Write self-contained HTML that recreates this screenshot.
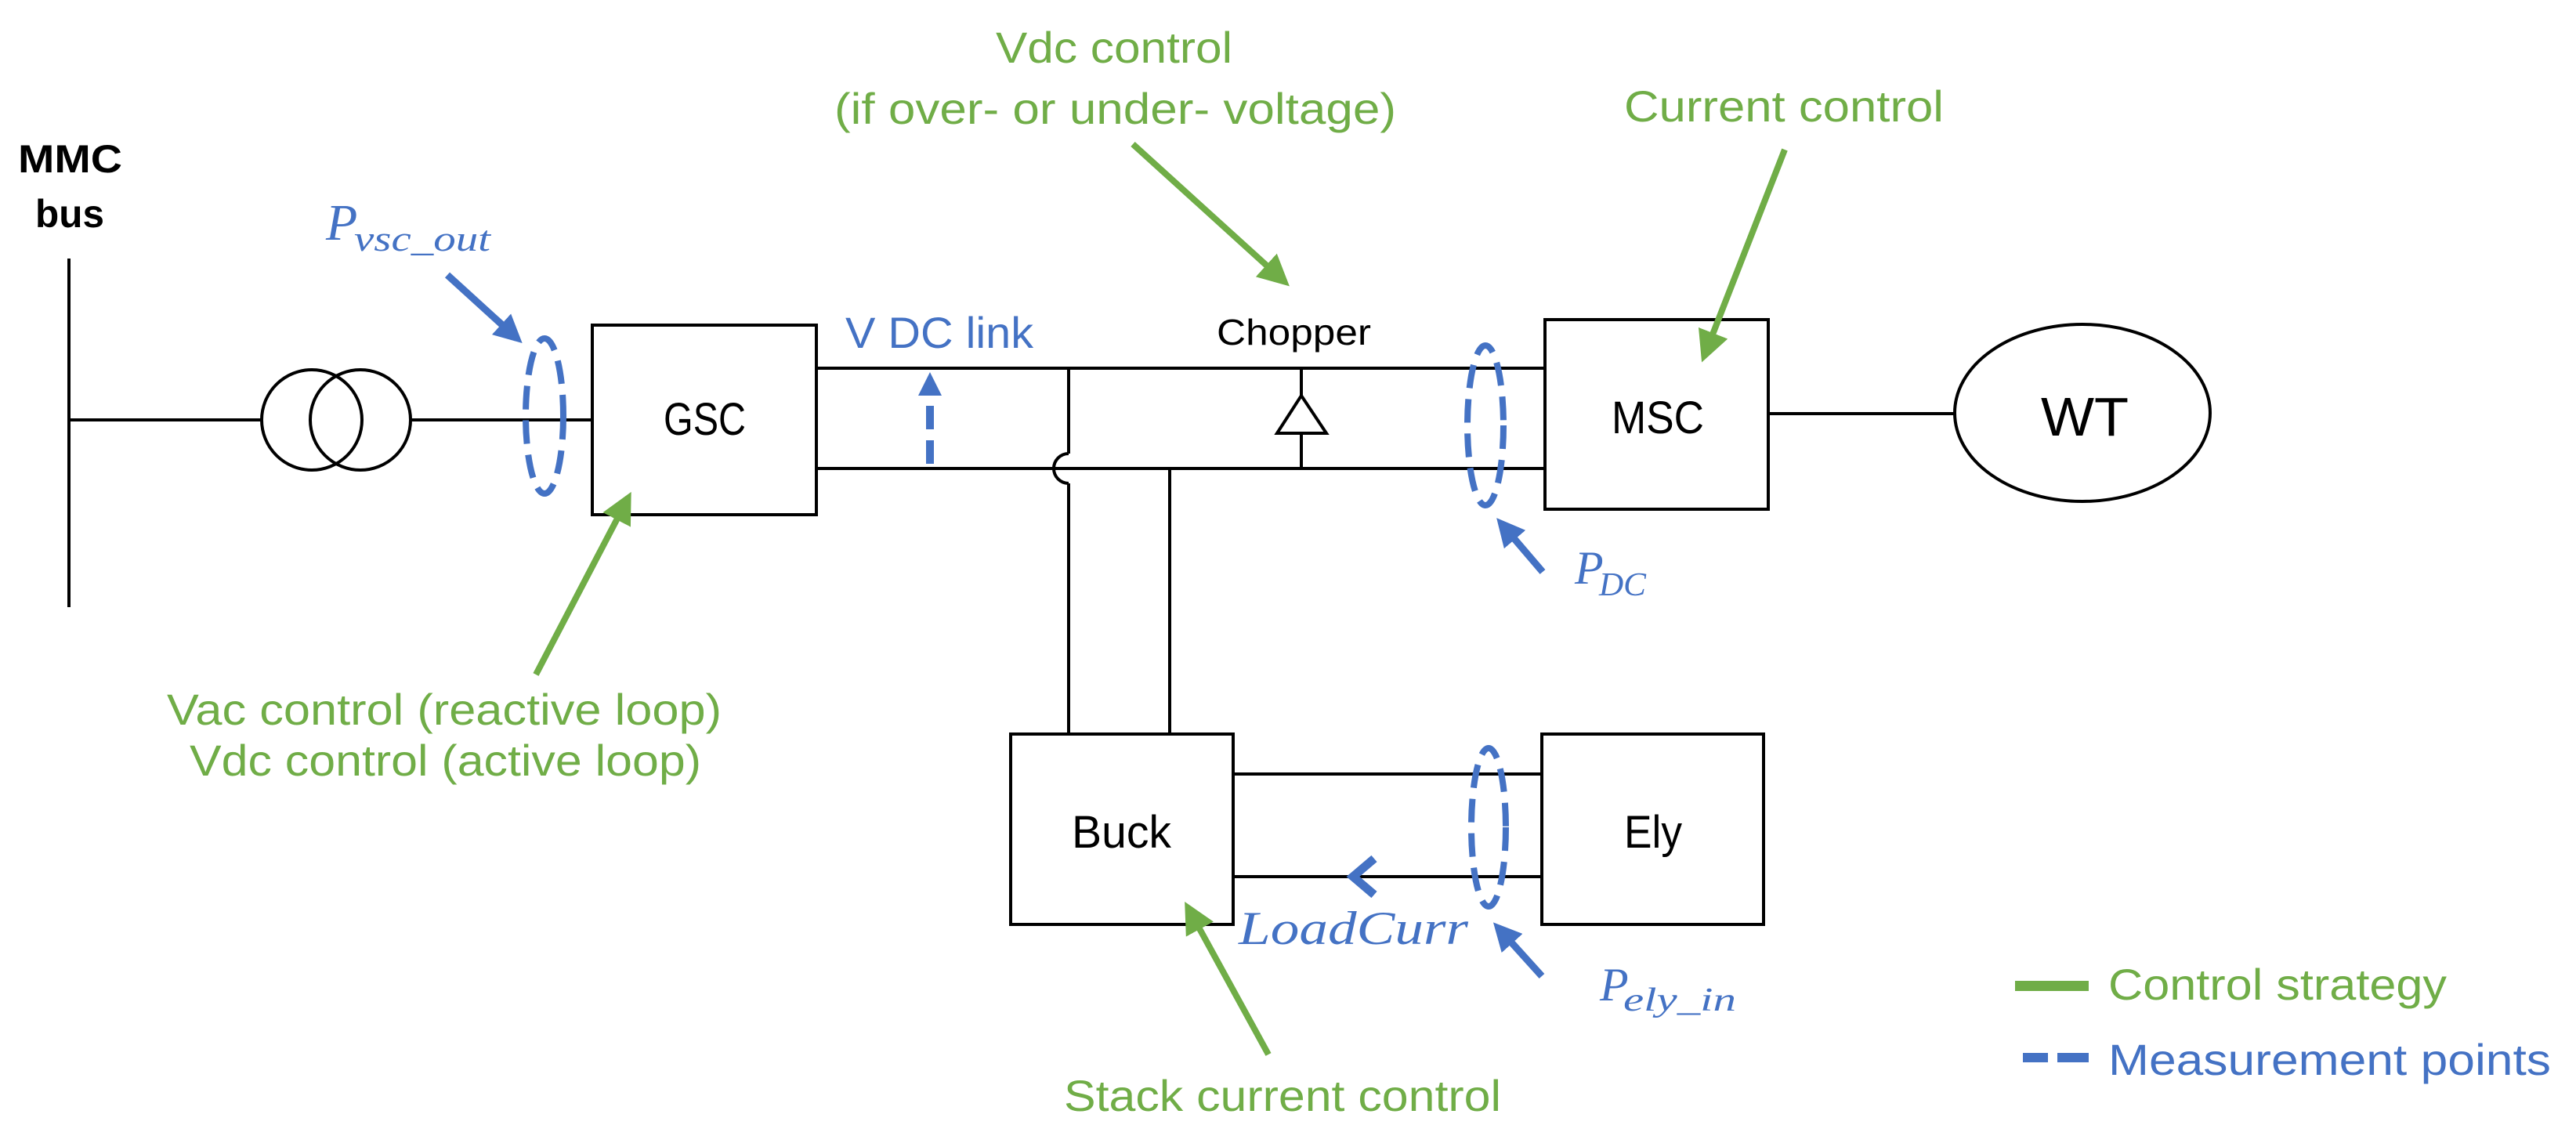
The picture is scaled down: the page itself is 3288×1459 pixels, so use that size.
<!DOCTYPE html>
<html><head><meta charset="utf-8"><style>html,body{margin:0;padding:0;background:#fff}svg{display:block}</style></head>
<body>
<svg width="3288" height="1459" viewBox="0 0 3288 1459" xmlns="http://www.w3.org/2000/svg">
<defs>
<marker id="gh" markerWidth="5" markerHeight="5" refX="4" refY="2.5" orient="auto" markerUnits="strokeWidth"><path d="M0,0 L5,2.5 L0,5 Z" fill="#70AD47"/></marker>
<marker id="bh" markerWidth="4" markerHeight="4" refX="3" refY="2" orient="auto" markerUnits="strokeWidth"><path d="M0,0 L4,2 L0,4 Z" fill="#4472C4"/></marker>
</defs>
<g fill="none" stroke="#000" stroke-width="4">
<line x1="88" y1="330" x2="88" y2="775"/>
<line x1="88" y1="536" x2="335" y2="536"/>
<circle cx="398" cy="536" r="64"/>
<circle cx="460" cy="536" r="64"/>
<line x1="524" y1="536" x2="756" y2="536"/>
<rect x="756" y="415" width="286" height="242"/>
<line x1="1042" y1="470" x2="1972" y2="470"/>
<line x1="1042" y1="598" x2="1972" y2="598"/>
<path d="M1364,579 A19,19 0 0 0 1364,617"/>
<line x1="1364" y1="470" x2="1364" y2="579"/>
<line x1="1364" y1="617" x2="1364" y2="937"/>
<line x1="1493" y1="598" x2="1493" y2="937"/>
<line x1="1661" y1="470" x2="1661" y2="505"/>
<path d="M1661,505 L1693,553 L1630,553 Z"/>
<line x1="1661" y1="553" x2="1661" y2="598"/>
<rect x="1972" y="408" width="285" height="242"/>
<line x1="2257" y1="528" x2="2495" y2="528"/>
<ellipse cx="2658" cy="527" rx="163" ry="113"/>
<rect x="1290" y="937" width="284" height="243"/>
<rect x="1968" y="937" width="283" height="243"/>
<line x1="1574" y1="988" x2="1968" y2="988"/>
<line x1="1574" y1="1119" x2="1968" y2="1119"/>
</g>
<g fill="none" stroke="#4472C4" stroke-width="8" stroke-dasharray="30,14">
<ellipse cx="695" cy="531" rx="24" ry="99"/>
<ellipse cx="1896" cy="543" rx="23" ry="102"/>
<ellipse cx="1900" cy="1056" rx="22" ry="101"/>
<line x1="1187" y1="592" x2="1187" y2="500" stroke-width="10"/>
</g>
<path d="M1172,505 L1187,475 L1202,505 Z" fill="#4472C4"/>
<g stroke="#4472C4" stroke-width="9" fill="none">
<line x1="571" y1="351" x2="660" y2="432" marker-end="url(#bh)"/>
<line x1="1969" y1="730" x2="1916" y2="668" marker-end="url(#bh)"/>
<line x1="1968" y1="1246" x2="1912" y2="1184" marker-end="url(#bh)"/>
<path d="M1754,1096 L1727,1119 L1754,1142" stroke-width="11"/>
</g>
<g stroke="#70AD47" stroke-width="8" fill="none">
<line x1="684" y1="861" x2="802" y2="635" marker-end="url(#gh)"/>
<line x1="1446" y1="184" x2="1640" y2="360" marker-end="url(#gh)"/>
<line x1="2278" y1="191" x2="2175" y2="455" marker-end="url(#gh)"/>
<line x1="1619" y1="1346" x2="1516" y2="1158" marker-end="url(#gh)"/>
</g>
<rect x="2572" y="1252" width="94" height="13" fill="#70AD47"/>
<rect x="2582" y="1344" width="32" height="12" fill="#4472C4"/>
<rect x="2626" y="1344" width="40" height="12" fill="#4472C4"/>
<g font-family="Liberation Sans, sans-serif" fill="#000">
<text x="23" y="220" font-size="50" font-weight="bold" textLength="133" lengthAdjust="spacingAndGlyphs">MMC</text>
<text x="45" y="290" font-size="50" font-weight="bold" textLength="88" lengthAdjust="spacingAndGlyphs">bus</text>
<text x="847" y="555" font-size="58" textLength="105" lengthAdjust="spacingAndGlyphs">GSC</text>
<text x="2057" y="553" font-size="58" textLength="118" lengthAdjust="spacingAndGlyphs">MSC</text>
<text x="2605" y="556" font-size="70" textLength="112" lengthAdjust="spacingAndGlyphs">WT</text>
<text x="1553" y="440" font-size="46" textLength="197" lengthAdjust="spacingAndGlyphs">Chopper</text>
<text x="1368" y="1082" font-size="58" textLength="127" lengthAdjust="spacingAndGlyphs">Buck</text>
<text x="2073" y="1082" font-size="58" textLength="74" lengthAdjust="spacingAndGlyphs">Ely</text>
</g>
<g font-family="Liberation Sans, sans-serif" fill="#70AD47" font-size="56">
<text x="1271" y="80" textLength="302" lengthAdjust="spacingAndGlyphs">Vdc control</text>
<text x="1065" y="158" textLength="717" lengthAdjust="spacingAndGlyphs">(if over- or under- voltage)</text>
<text x="2073" y="155" textLength="408" lengthAdjust="spacingAndGlyphs">Current control</text>
<text x="213" y="925" textLength="708" lengthAdjust="spacingAndGlyphs">Vac control (reactive loop)</text>
<text x="242" y="990" textLength="653" lengthAdjust="spacingAndGlyphs">Vdc control (active loop)</text>
<text x="1358" y="1418" textLength="558" lengthAdjust="spacingAndGlyphs">Stack current control</text>
<text x="2691" y="1276" textLength="432" lengthAdjust="spacingAndGlyphs">Control strategy</text>
</g>
<g font-family="Liberation Sans, sans-serif" fill="#4472C4" font-size="56">
<text x="1079" y="444" textLength="240" lengthAdjust="spacingAndGlyphs">V DC link</text>
<text x="2691" y="1372" textLength="565" lengthAdjust="spacingAndGlyphs">Measurement points</text>
</g>
<g font-family="Liberation Serif, serif" font-style="italic" fill="#4472C4">
<text x="416" y="306" font-size="66">P</text>
<text x="452" y="320" font-size="46" textLength="174" lengthAdjust="spacingAndGlyphs">vsc_out</text>
<text x="2010" y="745" font-size="60">P</text>
<text x="2041" y="760" font-size="42" textLength="60" lengthAdjust="spacingAndGlyphs">DC</text>
<text x="1581" y="1205" font-size="60" textLength="293" lengthAdjust="spacingAndGlyphs">LoadCurr</text>
<text x="2042" y="1277" font-size="60">P</text>
<text x="2072" y="1290" font-size="42" textLength="144" lengthAdjust="spacingAndGlyphs">ely_in</text>
</g>
</svg>
</body></html>
